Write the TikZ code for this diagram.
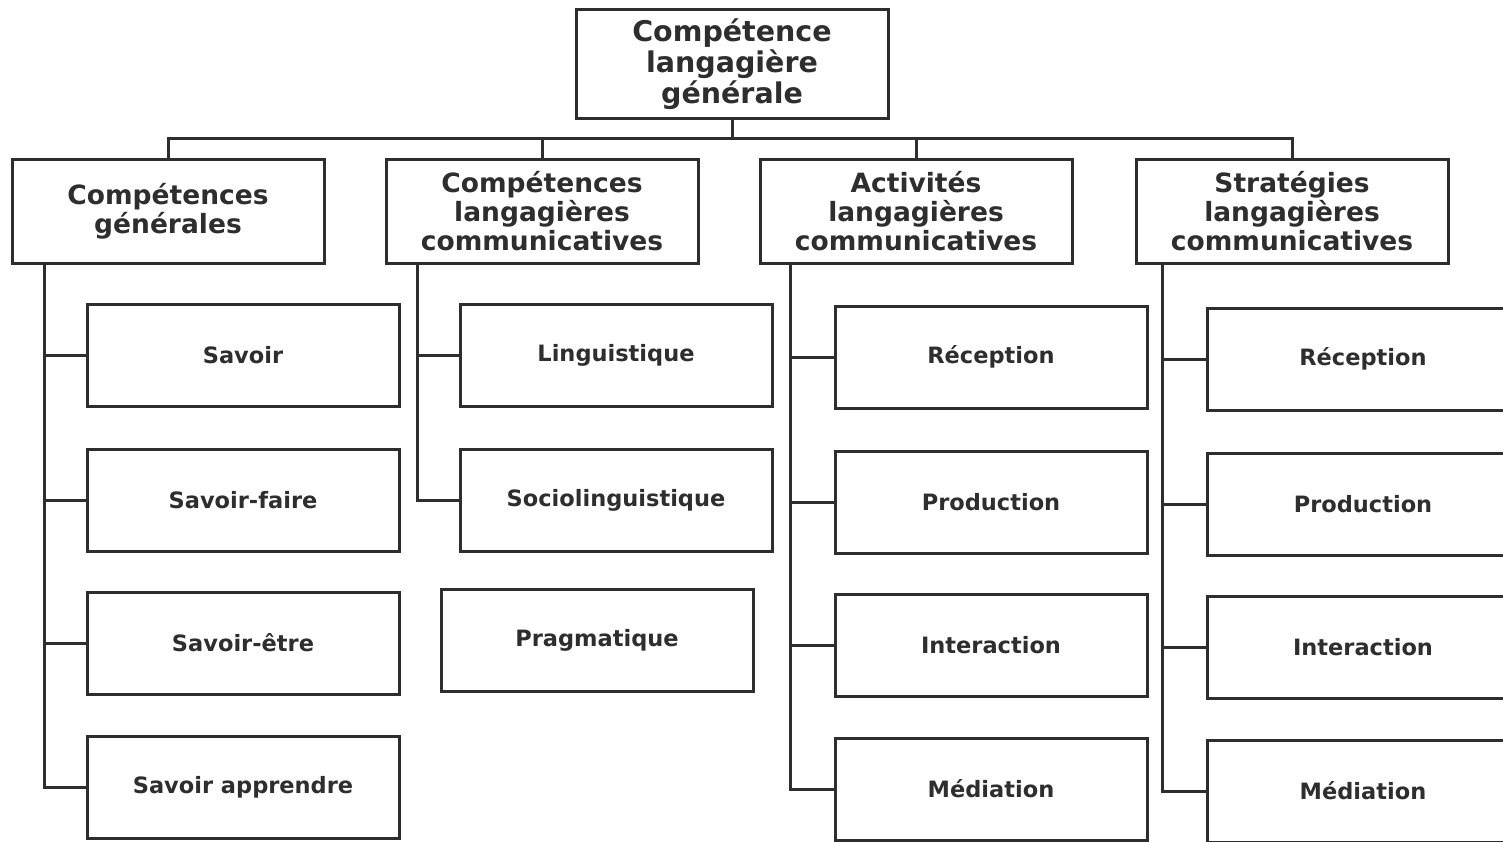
\documentclass[tikz,border=0pt]{standalone}
\usepackage{fontspec}
\setsansfont{DejaVu Sans}
\usetikzlibrary{positioning}
\definecolor{ink}{HTML}{2E2E2E}

\begin{document}
\begin{tikzpicture}[x=1pt, y=-1pt, color=ink, line width=3pt,
    box/.style={draw, rectangle, inner sep=0pt, align=center, minimum width=312pt},
    topbox/.style={box, minimum height=109pt, font={\sffamily\bfseries\fontsize{28.5pt}{31pt}\selectfont}},
    midbox/.style={box, minimum height=104pt, font={\sffamily\bfseries\fontsize{26.5pt}{29pt}\selectfont}},
    leafbox/.style={box, minimum height=102pt, font={\sffamily\bfseries\fontsize{22.5pt}{27pt}\selectfont}}]
    \clip (0,0) rectangle (1503,841);

    % top
    \node[topbox] (top) at (732,64) {Compétence\\langagière\\générale};

    % second level
    \node[midbox] (gen) at (168,211) {Compétences\\générales};
    \node[midbox] (comp) at (542,211) {Compétences\\langagières\\communicatives};
    \node[midbox] (act) at (916,211) {Activités\\langagières\\communicatives};
    \node[midbox] (strat) at (1292,211) {Stratégies\\langagières\\communicatives};

    % leaves
    \node[leafbox] (savoir) at (243,355) {Savoir};
    \node[leafbox] (savfaire) at (243,500) {Savoir-faire};
    \node[leafbox] (savetre) at (243,643) {Savoir-être};
    \node[leafbox] (savapp) at (243,787) {Savoir apprendre};

    \node[leafbox] (ling) at (616,355) {Linguistique};
    \node[leafbox] (socio) at (616,500) {Sociolinguistique};
    \node[leafbox] (prag) at (597,640) {Pragmatique};

    \node[leafbox] (actrec) at (991,357) {Réception};
    \node[leafbox] (actprod) at (991,502) {Production};
    \node[leafbox] (actinter) at (991,645) {Interaction};
    \node[leafbox] (actmed) at (991,789) {Médiation};

    \node[leafbox] (strrec) at (1363,359) {Réception};
    \node[leafbox] (strprod) at (1363,504) {Production};
    \node[leafbox] (strinter) at (1363,647) {Interaction};
    \node[leafbox] (strmed) at (1363,791) {Médiation};

    % bus under the top box
    \coordinate (bus) at (732,138);
    \draw (top.south) -- (bus);
    \draw (gen.north) |- (bus) -| (strat.north);
    \draw (comp.north) -- (comp.north |- bus);
    \draw (act.north) -- (act.north |- bus);

    % spines
    \coordinate (genspine) at (44,0);
    \coordinate (compspine) at (417,0);
    \coordinate (actspine) at (790,0);
    \coordinate (strspine) at (1162,0);

    \draw (gen.south -| genspine) |- (savapp.west);
    \draw (savoir.west) -- (savoir.west -| genspine);
    \draw (savfaire.west) -- (savfaire.west -| genspine);
    \draw (savetre.west) -- (savetre.west -| genspine);

    \draw (comp.south -| compspine) |- (socio.west);
    \draw (ling.west) -- (ling.west -| compspine);

    \draw (act.south -| actspine) |- (actmed.west);
    \draw (actrec.west) -- (actrec.west -| actspine);
    \draw (actprod.west) -- (actprod.west -| actspine);
    \draw (actinter.west) -- (actinter.west -| actspine);

    \draw (strat.south -| strspine) |- (strmed.west);
    \draw (strrec.west) -- (strrec.west -| strspine);
    \draw (strprod.west) -- (strprod.west -| strspine);
    \draw (strinter.west) -- (strinter.west -| strspine);
\end{tikzpicture}
\end{document}
